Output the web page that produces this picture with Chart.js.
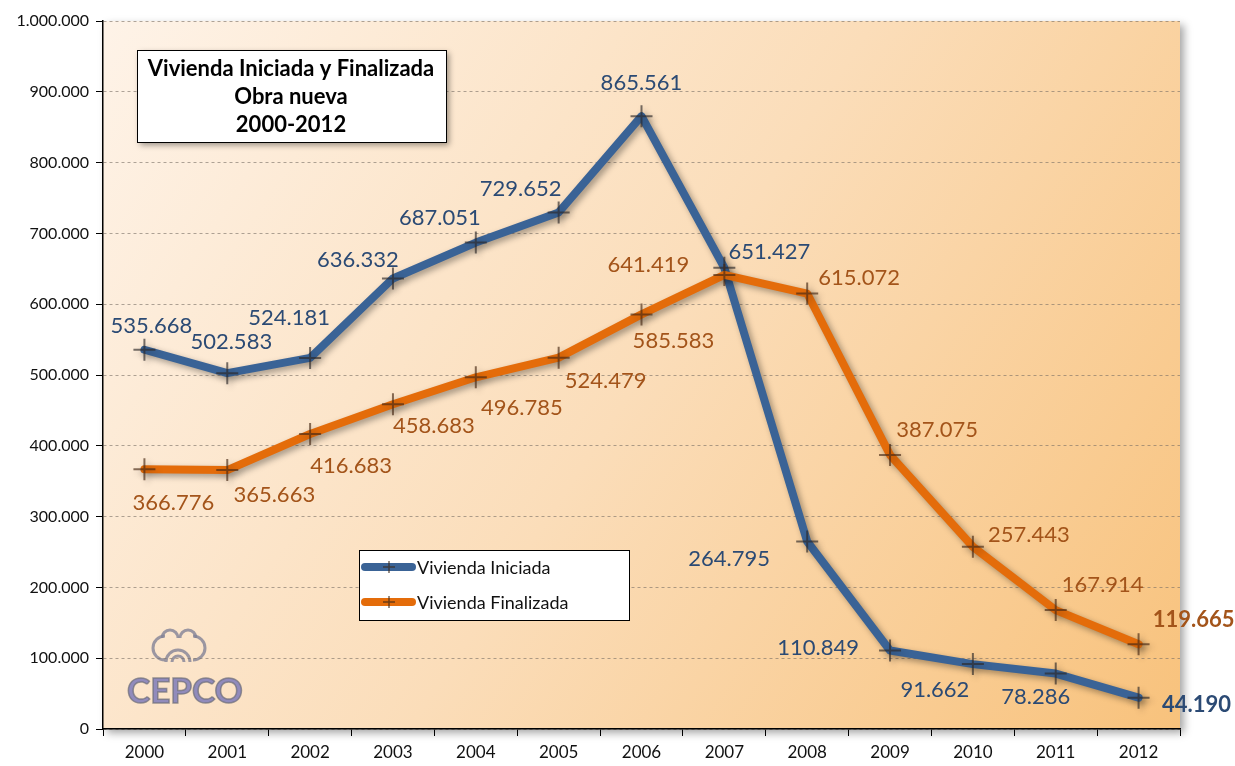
<!DOCTYPE html>
<html><head><meta charset="utf-8">
<script src="https://cdn.jsdelivr.net/npm/chart.js@4.4.1/dist/chart.umd.min.js"></script>
<style>html,body{margin:0;padding:0;background:#fff}#wrap{width:1235px;height:766px;position:relative}</style>
</head><body><div id="wrap"><canvas id="c" width="1235" height="766"></canvas></div>
<script>
const years = ['2000','2001','2002','2003','2004','2005','2006','2007','2008','2009','2010','2011','2012'];
const iniciada = [535668, 502583, 524181, 636332, 687051, 729652, 865561, 651427, 264795, 110849, 91662, 78286, 44190];
const finalizada = [366776, 365663, 416683, 458683, 496785, 524479, 585583, 641419, 615072, 387075, 257443, 167914, 119665];
const titleLines = ['Vivienda Iniciada y Finalizada','Obra nueva','2000-2012'];
const seriesNames = ['Vivienda Iniciada','Vivienda Finalizada'];

const FONT = 'Lato, "Open Sans", sans-serif';
const fmt = v => String(Math.round(v)).replace(/\B(?=(\d{3})+(?!\d))/g, '.');

// label offsets (pixels) relative to each point
const labelOffsets = [
  [[7,-24],[4,-31],[-21,-40],[-35,-19],[-36,-25],[-38,-24],[0,-33],[45,-16],[-78,17],[-72,-3],[-38,26],[-20,23],[58,7]],
  [[29,34],[47,25],[41,32],[41,22],[46,31],[47,23],[32,26],[-76,-10],[52,-16],[47,-25],[56,-12],[47,-25],[55,-24]]
];
const labelColors = ['#2B4A74','#A3541A'];
const lineColors = ['#3A6396','#E46C0A'];

const bgPlugin = {
  id:'bg',
  beforeDraw(chart){
    const {ctx, chartArea:a} = chart;
    ctx.save();
    ctx.shadowColor='rgba(0,0,0,0.35)'; ctx.shadowBlur=8; ctx.shadowOffsetX=4; ctx.shadowOffsetY=4;
    const g = ctx.createLinearGradient(a.left, a.top, a.right, a.bottom);
    g.addColorStop(0,'#FEF3E8');
    g.addColorStop(0.5,'#FBDDB9');
    g.addColorStop(1,'#F8C27C');
    ctx.fillStyle=g;
    ctx.fillRect(a.left, a.top, a.right-a.left, a.bottom-a.top);
    ctx.restore();
    // logo
    ctx.save();
    ctx.font = 'bold 35px ' + FONT;
    ctx.textBaseline='middle'; ctx.textAlign='left';
    ctx.fillStyle='rgba(118,116,184,0.8)';
    ctx.strokeStyle='rgba(110,110,120,0.7)'; ctx.lineWidth=1.5;
    ctx.fillText('CEPCO',127,692); ctx.strokeText('CEPCO',127,692);
    ctx.strokeStyle='rgba(130,130,150,0.8)'; ctx.lineWidth=3;
    ctx.beginPath(); ctx.arc(178,662,12,Math.PI,2*Math.PI); ctx.stroke();
    ctx.beginPath(); ctx.arc(178,662,6,Math.PI,2*Math.PI); ctx.stroke();
    ctx.beginPath(); ctx.arc(165,648,12,-0.5*Math.PI,0.5*Math.PI,true); ctx.stroke();
    ctx.beginPath(); ctx.arc(193,648,12,-0.5*Math.PI,0.5*Math.PI); ctx.stroke();
    ctx.beginPath(); ctx.arc(170,638,8,Math.PI,2*Math.PI); ctx.stroke();
    ctx.beginPath(); ctx.arc(188,638,8,Math.PI,2*Math.PI); ctx.stroke();
    ctx.restore();
  }
};

const shadowPlugin = {
  id:'lineshadow',
  beforeDatasetDraw(chart){
    const ctx=chart.ctx; ctx.save();
    ctx.shadowColor='rgba(0,0,0,0.35)'; ctx.shadowBlur=6; ctx.shadowOffsetX=3; ctx.shadowOffsetY=3;
  },
  afterDatasetDraw(chart){ chart.ctx.restore(); }
};

const overlayPlugin = {
  id:'overlay',
  afterDatasetsDraw(chart){
    const ctx = chart.ctx;
    ctx.save();
    ctx.textAlign='center'; ctx.textBaseline='middle';
    chart.data.datasets.forEach((ds, di) => {
      const meta = chart.getDatasetMeta(di);
      meta.data.forEach((pt, i) => {
        const last = i === ds.data.length-1;
        ctx.font = (last?'bold ':'') + '22px ' + FONT;
        ctx.fillStyle = labelColors[di];
        const o = labelOffsets[di][i];
        ctx.fillText(fmt(ds.data[i]), pt.x + o[0], pt.y + o[1]);
      });
    });
    // title box
    ctx.save();
    ctx.shadowColor='rgba(0,0,0,0.4)'; ctx.shadowBlur=6; ctx.shadowOffsetX=3; ctx.shadowOffsetY=3;
    ctx.fillStyle='#fff'; ctx.fillRect(137,50,309,92);
    ctx.restore();
    ctx.strokeStyle='#000'; ctx.lineWidth=1; ctx.strokeRect(137.5,50.5,309,92);
    ctx.fillStyle='#000'; ctx.font='bold 22px ' + FONT;
    titleLines.forEach((t,i)=> ctx.fillText(t, 291, 69 + i*28));
    // legend box
    ctx.fillStyle='#fff'; ctx.fillRect(359,550,270,70);
    ctx.strokeStyle='#000'; ctx.strokeRect(359.5,550.5,270,70);
    chart.data.datasets.forEach((ds, di) => {
      const y = 567 + di*35;
      ctx.strokeStyle = lineColors[di]; ctx.lineWidth=8; ctx.lineCap='round';
      ctx.beginPath(); ctx.moveTo(365,y); ctx.lineTo(412,y); ctx.stroke();
      ctx.strokeStyle='rgba(60,40,25,0.7)'; ctx.lineWidth=1.5; ctx.lineCap='butt';
      ctx.beginPath(); ctx.moveTo(383,y); ctx.lineTo(395,y); ctx.moveTo(389,y-6); ctx.lineTo(389,y+6); ctx.stroke();
      ctx.fillStyle='#111'; ctx.font='18px ' + FONT; ctx.textAlign='left';
      ctx.fillText(ds.label, 417, y+1);
    });
    ctx.restore();
  }
};

new Chart(document.getElementById('c'), {
  type:'line',
  data:{
    labels: years,
    datasets:[
      {label: seriesNames[0], data: iniciada, borderColor: lineColors[0], borderWidth: 8, order: 1,
       pointStyle:'cross', pointRadius: 11, pointBorderWidth: 2, pointBorderColor:'rgba(45,40,40,0.65)', pointBackgroundColor:'transparent',
       borderJoinStyle:'round', borderCapStyle:'round', tension:0},
      {label: seriesNames[1], data: finalizada, borderColor: lineColors[1], borderWidth: 8, order: 0,
       pointStyle:'cross', pointRadius: 11, pointBorderWidth: 2, pointBorderColor:'rgba(70,40,20,0.65)', pointBackgroundColor:'transparent',
       borderJoinStyle:'round', borderCapStyle:'round', tension:0}
    ]
  },
  options:{
    responsive:false, animation:false,
    layout:{padding:{left:0, top:21, right:55, bottom:0}},
    plugins:{legend:{display:false}, tooltip:{enabled:false}, title:{display:false}},
    scales:{
      x:{
        offset:true,
        grid:{display:true, drawOnChartArea:false, drawTicks:true, tickLength:7, tickColor:'#000', offset:true},
        border:{display:true, color:'#000', width:1.5},
        ticks:{color:'#111', font:{family:FONT, size:17}, padding:6},
        afterFit(s){ s.height = 37; }
      },
      y:{
        min:0, max:1000000,
        grid:{color:'rgba(120,110,100,0.6)', lineWidth:1, tickLength:7, tickColor:'#000', tickBorderDash:[], drawTicks:true},
        border:{display:true, color:'#000', width:1.5, dash:[3,3]},
        ticks:{stepSize:100000, color:'#111', font:{family:FONT, size:16}, padding:7, callback: v => fmt(v)},
        afterFit(s){ s.width = 103; }
      }
    }
  },
  plugins:[bgPlugin, shadowPlugin, overlayPlugin]
});
</script></body></html>
